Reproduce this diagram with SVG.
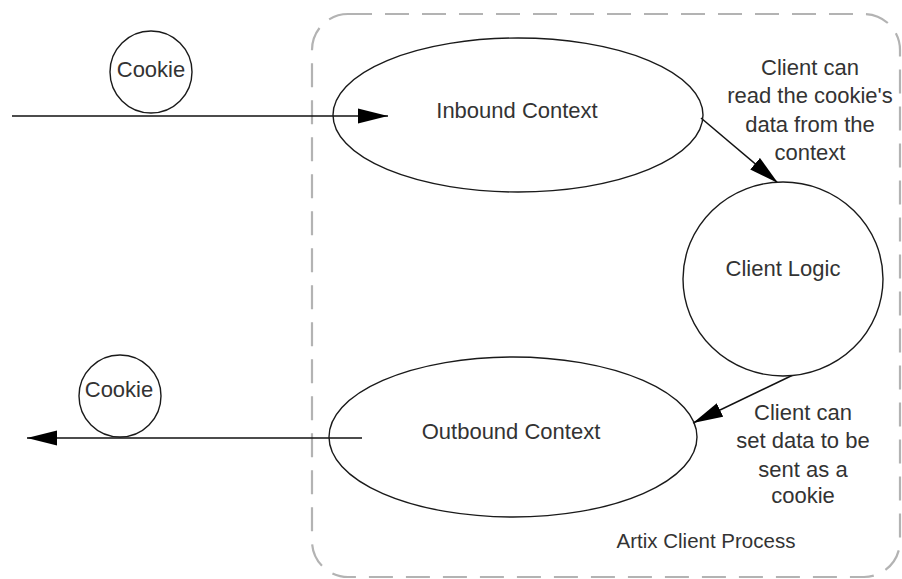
<svg xmlns="http://www.w3.org/2000/svg" width="902" height="579" viewBox="0 0 902 579">
<style>
.shape{fill:#fff;stroke:#1a1a1a;stroke-width:1.4}
.lbl{font-family:"Liberation Sans",Arial,sans-serif;font-size:22px;fill:#333;text-anchor:middle}
.conn{stroke:#111;stroke-width:1.5;fill:none}
.boundary{fill:none;stroke:#b3b3b3;stroke-width:2.2;stroke-dasharray:24 13}
</style>
<defs>
<marker id="arrow" markerUnits="userSpaceOnUse" markerWidth="30" markerHeight="16" refX="30" refY="8" orient="auto" viewBox="0 0 30 16">
<path d="M0,0.5 L30,8 L0,15.5 z" fill="#000"/>
</marker>
</defs>
<g id="artix-client-process">
<rect class="boundary" x="312" y="14" width="588" height="563" rx="36" ry="36"/>
<text class="lbl" x="706" y="548" style="font-size:20.5px">Artix Client Process</text>
</g>
<g id="connectors">
<line class="conn" x1="12" y1="116" x2="388" y2="116" marker-end="url(#arrow)"/>
<line class="conn" x1="701" y1="118" x2="778" y2="183" marker-end="url(#arrow)"/>
<line class="conn" x1="793" y1="375" x2="693" y2="423" marker-end="url(#arrow)"/>
<line class="conn" x1="362" y1="438" x2="27" y2="438" marker-end="url(#arrow)"/>
</g>
<g id="cookie-in">
<circle class="shape" cx="151" cy="72" r="41"/>
<text class="lbl" x="151" y="77">Cookie</text>
</g>
<g id="inbound-context">
<ellipse class="shape" cx="518" cy="115" rx="185" ry="77" fill-opacity="0"/>
<text class="lbl" x="517" y="118">Inbound Context</text>
</g>
<g id="client-logic">
<ellipse class="shape" cx="783" cy="279" rx="100" ry="97"/>
<text class="lbl" x="783" y="276">Client Logic</text>
</g>
<g id="outbound-context">
<ellipse class="shape" cx="513" cy="437" rx="184" ry="80" fill-opacity="0"/>
<text class="lbl" x="511" y="439">Outbound Context</text>
</g>
<g id="cookie-out">
<circle class="shape" cx="120" cy="396" r="41"/>
<text class="lbl" x="119" y="397">Cookie</text>
</g>
<g id="note-read">
<text class="lbl" x="810" y="75">Client can</text>
<text class="lbl" x="810" y="103">read the cookie's</text>
<text class="lbl" x="810" y="132">data from the</text>
<text class="lbl" x="810" y="160">context</text>
</g>
<g id="note-set">
<text class="lbl" x="803" y="420">Client can</text>
<text class="lbl" x="803" y="448">set data to be</text>
<text class="lbl" x="803" y="477">sent as a</text>
<text class="lbl" x="803" y="503">cookie</text>
</g>
</svg>
